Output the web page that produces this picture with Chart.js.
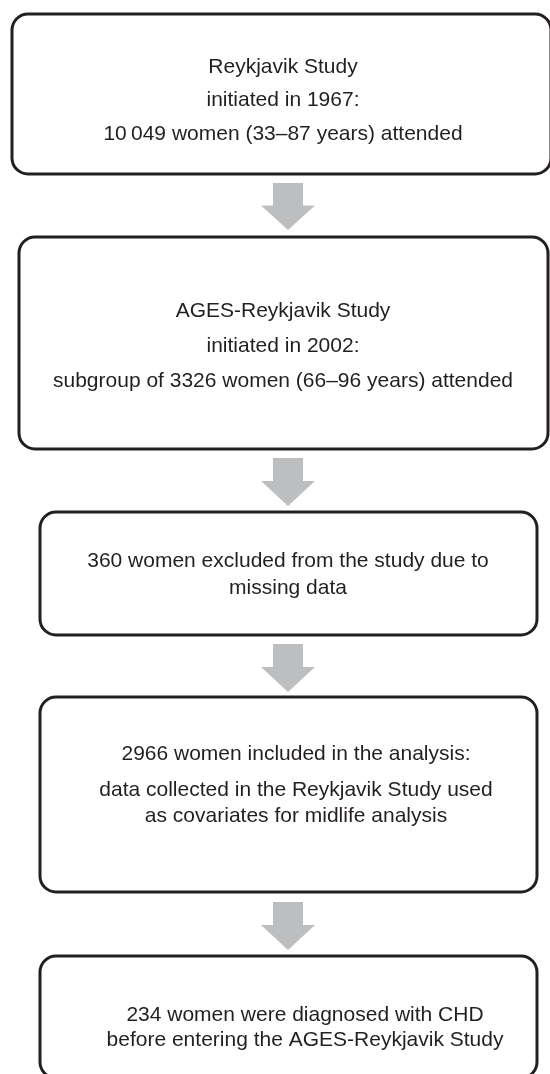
<!DOCTYPE html>
<html>
<head>
<meta charset="utf-8">
<script src="https://cdn.jsdelivr.net/npm/chart.js@4"></script>
<style>
  html, body { margin: 0; padding: 0; background: #fff; }
  #wrap { width: 550px; height: 1074px; }
</style>
</head>
<body>
<div id="wrap"><canvas id="flow" width="550" height="1074"></canvas></div>
<script>
// Flow chart data (page units: x 0..550, y 0..1074 from top)
const boxLeft   = [12, 19, 40, 40, 40];
const boxRight  = [551, 548, 537, 537, 537];
const boxTop    = [14, 237, 512, 697, 956];
const boxBottom = [174, 449, 635, 892, 1078];

const boxText = [
    ['Reykjavik Study', 'initiated in 1967:', '10\u2009049 women (33\u201387 years) attended'],
    ['AGES-Reykjavik Study', 'initiated in 2002:', 'subgroup of 3326 women (66\u201396 years) attended'],
    ['360 women excluded from the study due to', 'missing data'],
    ['2966 women included in the analysis:', 'data collected in the Reykjavik Study used', 'as covariates for midlife analysis'],
    ['234 women were diagnosed with CHD', 'before entering the AGES-Reykjavik Study']
];
const textX = [283, 283, 288, 296, 305];
const textY = [
    [67, 100, 134],
    [311, 346, 381],
    [561, 588],
    [754, 790, 816],
    [1015, 1040]
];

const arrowX    = [288, 288, 288, 288];
const arrowTop  = [183, 458, 644, 902];
const arrowTip  = [230, 506, 692, 950];

const INK = '#231f20';
const ARROW = '#bcbec0';

const flowPlugin = {
    id: 'flow',
    afterDraw: (chart) => {
        const { ctx, scales: { x, y } } = chart;
        const px = (v) => x.getPixelForValue(v);
        const py = (v) => y.getPixelForValue(v);
        ctx.save();

        // arrows
        ctx.fillStyle = ARROW;
        arrowX.forEach((ax, i) => {
            const cx = px(ax);
            const top = py(arrowTop[i]);
            const tip = py(arrowTip[i]);
            const headTop = tip - (tip - top) * 0.52;
            const shaftHalf = (px(ax + 15) - cx);
            const headHalf = (px(ax + 27) - cx);
            ctx.beginPath();
            ctx.moveTo(cx - shaftHalf, top);
            ctx.lineTo(cx + shaftHalf, top);
            ctx.lineTo(cx + shaftHalf, headTop);
            ctx.lineTo(cx + headHalf, headTop);
            ctx.lineTo(cx, tip);
            ctx.lineTo(cx - headHalf, headTop);
            ctx.lineTo(cx - shaftHalf, headTop);
            ctx.closePath();
            ctx.fill();
        });

        // boxes
        ctx.strokeStyle = INK;
        ctx.lineWidth = 3;
        boxLeft.forEach((l, i) => {
            const x0 = px(l), x1 = px(boxRight[i]);
            const y0 = py(boxTop[i]), y1 = py(boxBottom[i]);
            ctx.beginPath();
            ctx.roundRect(x0, y0, x1 - x0, y1 - y0, 16);
            ctx.stroke();
        });

        // labels
        ctx.fillStyle = INK;
        ctx.font = "21px 'Liberation Sans', Arial, sans-serif";
        ctx.textAlign = 'center';
        ctx.textBaseline = 'middle';
        boxText.forEach((lines, i) => {
            lines.forEach((t, j) => {
                ctx.fillText(t, px(textX[i]), py(textY[i][j]));
            });
        });
        ctx.restore();
    }
};

new Chart(document.getElementById('flow'), {
    type: 'scatter',
    data: { datasets: [{ data: [], pointRadius: 0 }] },
    options: {
        responsive: false,
        animation: false,
        layout: { padding: 0 },
        plugins: { legend: { display: false }, tooltip: { enabled: false } },
        scales: {
            x: { type: 'linear', min: 0, max: 550, display: false },
            y: { type: 'linear', min: 0, max: 1074, reverse: true, display: false }
        }
    },
    plugins: [flowPlugin]
});
</script>
</body>
</html>
